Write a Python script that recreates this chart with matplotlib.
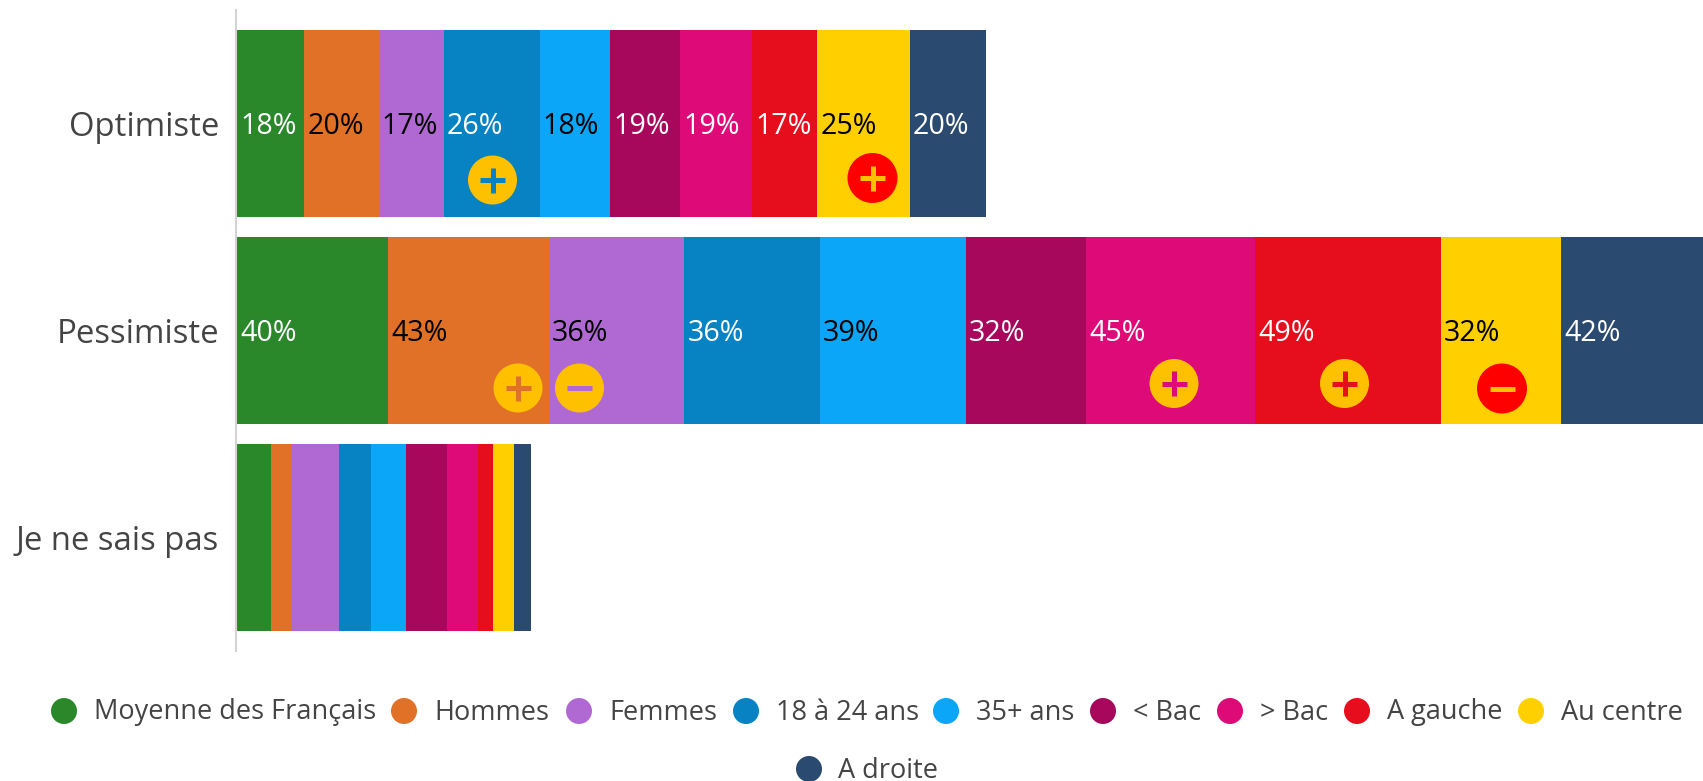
import matplotlib
matplotlib.use('Agg')
import matplotlib.pyplot as plt
import numpy as np
from matplotlib.patches import Circle

plt.rcParams['font.family'] = ['Open Sans', 'DejaVu Sans']

W, H = 1703, 781

categories = ['Optimiste', 'Pessimiste', 'Je ne sais pas']
series = ['Moyenne des Français', 'Hommes', 'Femmes', '18 à 24 ans', '35+ ans',
          '< Bac', '> Bac', 'A gauche', 'Au centre', 'A droite']
colors = ['#2A882B', '#E07127', '#B069D3', '#0782C2', '#0BA6F7',
          '#A8085C', '#DE0A78', '#E60D1C', '#FFCF00', '#2A4A70']
text_colors = ['white', 'black', 'black', 'white', 'black',
               'white', 'white', 'white', 'black', 'white']

# bar lengths, they differ a bit from the printed labels
optimiste = [17.9, 19.8, 17.3, 25.5, 18.7, 18.7, 19.1, 17.3, 24.7, 20.3]
pessimiste = [40.2, 42.7, 36.1, 36.1, 38.7, 32.1, 44.9, 49.4, 32.0, 42.0]
ne_sais_pas = [9.1, 5.5, 12.6, 8.5, 9.3, 10.9, 8.2, 4.0, 5.6, 4.5]
values = [optimiste, pessimiste, ne_sais_pas]

optimiste_labels = ['18%', '20%', '17%', '26%', '18%', '19%', '19%', '17%', '25%', '20%']
pessimiste_labels = ['40%', '43%', '36%', '36%', '39%', '32%', '45%', '49%', '32%', '42%']
labels = [optimiste_labels, pessimiste_labels, [''] * 10]

fig = plt.figure(figsize=(W / 100, H / 100), dpi=100)

# main axes placed in pixels: x 237..1703, y 10..651
ax = fig.add_axes([237 / W, 1 - 651 / H, (W - 237) / W, 641 / H])
ax.set_xlim(0, (W - 237) / 3.76)
ax.set_ylim((651 - 123.5) / 207, (10 - 123.5) / 207)

left = np.zeros(3)
for i, name in enumerate(series):
    vals = [v[i] for v in values]
    ax.barh(range(3), vals, left=left, height=187 / 207, color=colors[i], label=name)
    for r in range(3):
        ax.annotate(labels[r][i], (left[r], r), xytext=(3, -3), textcoords='offset pixels',
                    va='center', ha='left', color=text_colors[i], fontsize=20.6)
    left += vals

for s in ['top', 'right', 'bottom']:
    ax.spines[s].set_visible(False)
ax.spines['left'].set_color('#D3D3D3')
ax.spines['left'].set_linewidth(1.5)
ax.spines['left'].set_position(('outward', 0.9))
ax.set_xticks([])
ax.set_yticks(range(3))
ax.set_yticklabels(categories, fontsize=23.7, color='#444444')
ax.tick_params(axis='y', length=0, pad=12)

# overlay in pixel coordinates for the badges and the legend
ov = fig.add_axes([0, 0, 1, 1], facecolor='none')
ov.set_xlim(0, W)
ov.set_ylim(H, 0)
ov.axis('off')

gold = '#FFC000'
# x, y, radius, sign, circle colour, sign colour
badges = [
    (492.5, 180, 24.5, '+', gold, colors[3]),
    (872.5, 178, 25, '+', '#FF0000', gold),
    (518, 388, 24.5, '+', gold, colors[1]),
    (579.5, 388, 24.5, '-', gold, colors[2]),
    (1174, 383.5, 24.5, '+', gold, colors[6]),
    (1344.5, 383.5, 24.5, '+', gold, colors[7]),
    (1502, 388.5, 25, '-', '#FF0000', gold),
]
for x, y, r, sign, c1, c2 in badges:
    ov.add_patch(Circle((x, y), r, color=c1, lw=0))
    ov.plot([x - 12.5, x + 12.5], [y, y], color=c2, lw=3.6, solid_capstyle='butt')
    if sign == '+':
        ov.plot([x, x], [y - 12.5, y + 12.5], color=c2, lw=3.6, solid_capstyle='butt')

# legend wraps on two rows, drawn by hand
marker_x = [64, 404, 579, 746, 946, 1103, 1230, 1357, 1531, 809]
text_x = [94, 434, 609, 776, 976, 1133, 1260, 1387, 1561, 838]
legend_y = [711] * 9 + [769]
for i, name in enumerate(series):
    ov.add_patch(Circle((marker_x[i], legend_y[i]), 13, color=colors[i], lw=0))
    ov.text(text_x[i], legend_y[i] + 1.5, name, va='center', ha='left', fontsize=19.5, color='#444444')

fig.savefig('out.png', dpi=100)
